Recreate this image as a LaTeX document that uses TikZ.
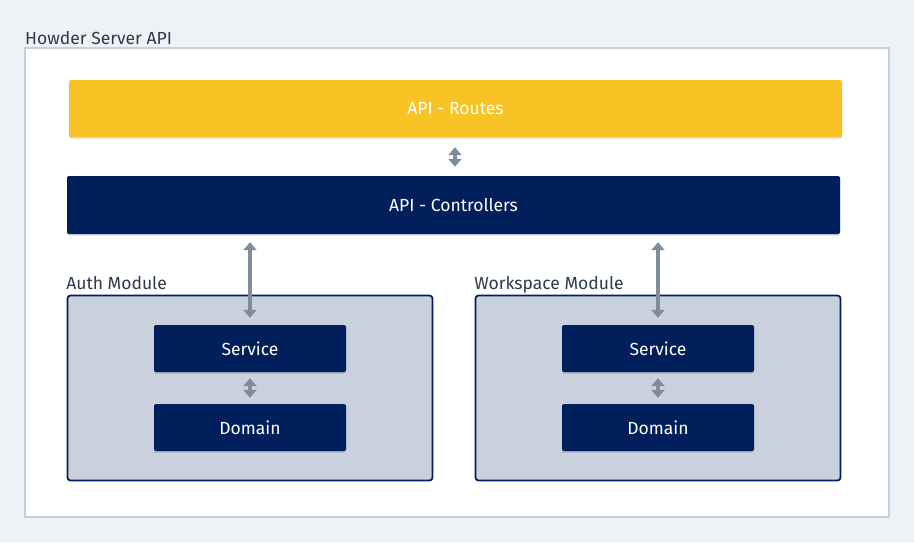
\documentclass[tikz,border=0pt]{standalone}
\usepackage{fontspec}
\setmainfont{Fira Sans}
\usetikzlibrary{arrows.meta,shadows}
\definecolor{bgc}{HTML}{EEF2F6}
\definecolor{outerb}{HTML}{C5D0DB}
\definecolor{yel}{HTML}{F7C325}
\definecolor{navy}{HTML}{011F5B}
\definecolor{modfill}{HTML}{C9D1DE}
\definecolor{arr}{HTML}{7F8C9A}
\definecolor{lbl}{HTML}{2E3A48}
\tikzset{
  shad/.style={drop shadow={shadow xshift=0pt,shadow yshift=-1.5pt,opacity=0.15,fill=black}},
  bar/.style={rectangle,rounded corners=2pt,text=white,font=\fontsize{17.5}{20}\selectfont,inner sep=0pt,shad},
  inner/.style={rectangle,rounded corners=2pt,fill=navy,text=white,minimum width=192pt,minimum height=47pt,font=\fontsize{17.5}{20}\selectfont,inner sep=0pt,shad},
  modbox/.style={rectangle,rounded corners=3pt,fill=modfill,draw=navy,line width=1.8pt,minimum width=365pt,minimum height=185pt,inner sep=0pt},
  lab/.style={text=lbl,font=\fontsize{17.5}{20}\selectfont,inner sep=0pt,anchor=base west},
  biarrow/.style={draw=arr,line width=3.5pt,{Triangle[width=13pt,length=8pt]}-{Triangle[width=13pt,length=8pt]}}
}
\begin{document}
\begin{tikzpicture}[x=1pt,y=-1pt]
\fill[bgc] (0,0) rectangle (914,542);
\useasboundingbox (0,0) rectangle (914,542);
\node[draw=outerb,fill=white,line width=1.5pt,minimum width=864pt,minimum height=469pt,inner sep=0pt] (outer) at (457,282.5) {};
\node[lab] (title) at (25,44) {Howder Server API};
\node[bar,fill=yel,minimum width=773pt,minimum height=57pt] (routes) at (455.5,108.5) {\raisebox{-1pt}{API - Routes}};
\node[bar,fill=navy,minimum width=773pt,minimum height=58pt] (ctrl) at (453.5,205) {\raisebox{-1pt}{API - Controllers}};
\node[modbox] (lmod) at (250,388) {};
\node[modbox] (rmod) at (658,388) {};
\node[lab] (llab) at (lmod.north west) [yshift=5pt,xshift=-0.5pt] {Auth Module};
\node[lab] (rlab) at (rmod.north west) [yshift=5pt,xshift=-0.5pt] {Workspace Module};
\node[inner] (lsvc) at (250,348.5) {\raisebox{-1pt}{Service}};
\node[inner] (ldom) at (250,427.5) {\raisebox{-1pt}{Domain}};
\node[inner] (rsvc) at (658,348.5) {\raisebox{-1pt}{Service}};
\node[inner] (rdom) at (658,427.5) {\raisebox{-1pt}{Domain}};
\draw[biarrow,shorten <=10pt,shorten >=9pt] (routes.south -| 455,0) -- (ctrl.north -| 455,0);
\draw[biarrow,shorten <=8pt,shorten >=7pt] (ctrl.south -| lsvc) -- (lsvc.north);
\draw[biarrow,shorten <=8pt,shorten >=7pt] (ctrl.south -| rsvc) -- (rsvc.north);
\draw[biarrow,shorten <=6pt,shorten >=6pt] (lsvc.south) -- (ldom.north);
\draw[biarrow,shorten <=6pt,shorten >=6pt] (rsvc.south) -- (rdom.north);
\end{tikzpicture}
\end{document}
